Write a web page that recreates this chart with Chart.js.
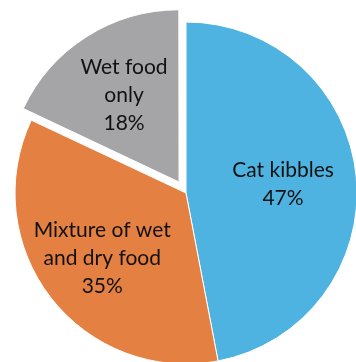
<!DOCTYPE html>
<html>
<head>
<meta charset="utf-8">
<script src="https://cdn.jsdelivr.net/npm/chart.js@4"></script>
<style>
  html, body { margin: 0; padding: 0; background: #fff; }
  #wrap { width: 356px; height: 362px; position: relative; }
</style>
</head>
<body>
<div id="wrap"><canvas id="pie"></canvas></div>
<script>
/* ── Data ── */
const categories = ['Cat kibbles', 'Mixture of wet and dry food', 'Wet food only'];
const values = [47, 35, 18];
const labelLines = [
  ['Cat kibbles'],
  ['Mixture of wet', 'and dry food'],
  ['Wet food', 'only']
];
const colors = ['#4EB3E0', '#E48042', '#A5A5A7'];
// arc offset: Chart.js v4 moves the slice by a quarter of this value
const offsets = [0, 0, 52];
const labelDist = [0.57, 0.62, 0.6];

/* ── Labels inside slices ── */
const sliceLabels = {
  id: 'sliceLabels',
  afterDatasetsDraw(chart) {
    const ctx = chart.ctx;
    const meta = chart.getDatasetMeta(0);
    const total = values.reduce((a, b) => a + b, 0);
    ctx.save();
    ctx.font = '21px Lato, sans-serif';
    ctx.fillStyle = '#111';
    ctx.textAlign = 'center';
    ctx.textBaseline = 'middle';
    meta.data.forEach((arc, i) => {
      const p = arc.getProps(['x', 'y', 'startAngle', 'endAngle', 'outerRadius']);
      const mid = (p.startAngle + p.endAngle) / 2;
      const r = p.outerRadius * labelDist[i] + offsets[i] / 4;
      const cx = p.x + Math.cos(mid) * r;
      const cy = p.y + Math.sin(mid) * r;
      const lines = labelLines[i].concat([Math.round(values[i] / total * 100) + '%']);
      const lh = 28;
      lines.forEach((t, j) => {
        ctx.fillText(t, cx, cy + (j - (lines.length - 1) / 2) * lh);
      });
    });
    ctx.restore();
  }
};

new Chart(document.getElementById('pie'), {
  type: 'pie',
  data: {
    labels: categories,
    datasets: [{
      data: values,
      backgroundColor: colors,
      borderColor: '#fff',
      borderWidth: 1,
      offset: offsets,
      clip: false
    }]
  },
  options: {
    responsive: true,
    maintainAspectRatio: false,
    animation: false,
    radius: 171,
    layout: { padding: { left: 16, right: 0, top: 24, bottom: 0 } },
    plugins: { legend: { display: false }, tooltip: { enabled: false } }
  },
  plugins: [sliceLabels]
});
</script>
</body>
</html>
